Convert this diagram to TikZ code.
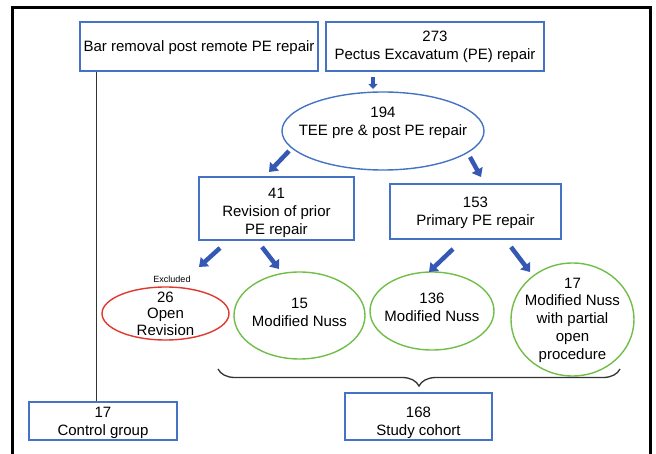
\documentclass[tikz,border=0pt]{standalone}
\usepackage{fontspec}
\setmainfont{Liberation Sans}
\usetikzlibrary{shapes.geometric}
\usetikzlibrary{arrows.meta}
\usetikzlibrary{decorations.pathreplacing}
\definecolor{boxblue}{RGB}{68,114,196}
\definecolor{arrblue}{RGB}{52,88,180}
\definecolor{ellgreen}{RGB}{112,190,72}
\definecolor{ellred}{RGB}{224,56,48}
\tikzset{
  blbox/.style={draw=boxblue, line width=1.4pt, inner sep=0pt},
  blell/.style={draw=boxblue, line width=1.4pt, ellipse, inner sep=0pt},
  grell/.style={draw=ellgreen, line width=1.4pt, ellipse, inner sep=0pt},
  rdell/.style={draw=ellred, line width=1.4pt, ellipse, inner sep=0pt},
  txt/.style={align=center, font=\fontsize{15}{18}\selectfont, inner sep=0pt},
  bigarr/.style={draw=arrblue, line width=4.5pt, -{Triangle[width=12pt,length=8pt]}}
}

\begin{document}
\begin{tikzpicture}[x=1pt,y=-1pt]
    \useasboundingbox (0,0) rectangle (656,454);
    %frame
    \draw[line width=3pt] (12,460) -- (12,7.5) -- (650,7.5) -- (650,460);

    %boxes
    \node[blbox, minimum width=238, minimum height=49] (bar) at (199,46.5) {};
    \node[txt] at (199,47.5) {Bar removal post remote PE repair};
    \node[blbox, minimum width=218, minimum height=49] (pe) at (435,46.5) {};
    \node[txt] at (pe) {273\\Pectus Excavatum (PE) repair};
    \node[blbox, minimum width=155, minimum height=63] (rev) at (276.5,208.5) {};
    \node[txt] at (276.5,213) {41\\Revision of prior\\PE repair};
    \node[blbox, minimum width=171, minimum height=55] (prim) at (475.5,211.5) {};
    \node[txt] at (475.5,213) {153\\Primary PE repair};
    \node[blbox, minimum width=148, minimum height=38] (ctrl) at (103,421) {};
    \node[txt] at (103,422.5) {17\\Control group};
    \node[blbox, minimum width=147, minimum height=47] (study) at (418.5,416.5) {};
    \node[txt] at (418.5,423) {168\\Study cohort};

    %ellipses
    \node[blell, minimum width=202, minimum height=78] (tee) at (383,131) {};
    \node[txt] at (383,123) {194\\TEE pre \& post PE repair};
    \node[rdell, minimum width=127, minimum height=53] (open) at (165.5,313.5) {};
    \node[txt, font=\fontsize{15}{16.5}\selectfont] at (open) {26\\Open\\Revision};
    \node[txt, font=\fontsize{9}{10}\selectfont] (excl) at (172,279) {Excluded};
    \node[grell, minimum width=131, minimum height=87] (nussa) at (299.5,315.5) {};
    \node[txt] at (299.5,312) {15\\Modified Nuss};
    \node[grell, minimum width=124, minimum height=78] (nussb) at (432,311) {};
    \node[txt] at (432,307) {136\\Modified Nuss};
    \node[grell, minimum width=123, minimum height=113] (nussc) at (572.5,319.5) {};
    \node[txt, font=\fontsize{15}{17.7}\selectfont] at (572.5,320) {17\\Modified Nuss\\with partial\\open\\procedure};

    %arrows
    \coordinate (a1) at (373,77);  \coordinate (b1) at (373,89);
    \coordinate (a2) at (289,151); \coordinate (b2) at (269,172);
    \coordinate (a3) at (470,157); \coordinate (b3) at (481,177);
    \coordinate (a4) at (220,248); \coordinate (b4) at (199,267);
    \coordinate (a5) at (262,247); \coordinate (b5) at (279,269);
    \coordinate (a6) at (453,249); \coordinate (b6) at (429,272);
    \coordinate (a7) at (511,247); \coordinate (b7) at (530,272);
    \draw[bigarr, line width=3.5pt, -{Triangle[width=9pt,length=5pt]}] (a1) -- (b1);
    \draw[bigarr] (a2) -- (b2);
    \draw[bigarr] (a3) -- (b3);
    \draw[bigarr] (a4) -- (b4);
    \draw[bigarr] (a5) -- (b5);
    \draw[bigarr] (a6) -- (b6);
    \draw[bigarr] (a7) -- (b7);

    %control line and brace
    \draw[line width=1.3pt, black!80] (bar.south west) ++(17,0) coordinate (vtop) -- (vtop |- ctrl.north);
    \draw[line width=1.3pt, black!80, decorate, decoration={brace, mirror, amplitude=17pt}] (218,369) -- (620,369);
\end{tikzpicture}
\end{document}
